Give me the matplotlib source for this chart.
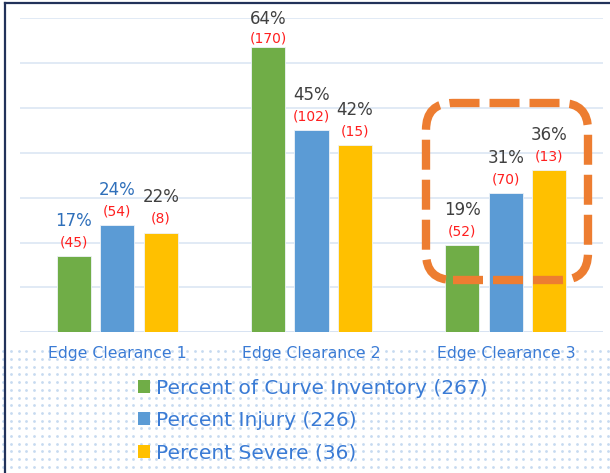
import numpy as np
import matplotlib
matplotlib.use('Agg')
import matplotlib.pyplot as plt
from matplotlib.patches import Patch, FancyBboxPatch

categories = ['Edge Clearance 1', 'Edge Clearance 2', 'Edge Clearance 3']
inventory_pct = [16.9, 63.7, 19.4]
inventory_n = [45, 170, 52]
injury_pct = [23.9, 45.1, 31.0]
injury_n = [54, 102, 70]
severe_pct = [22.2, 41.7, 36.1]
severe_n = [8, 15, 13]
legend_labels = ['Percent of Curve Inventory (267)', 'Percent Injury (226)', 'Percent Severe (36)']

plt.rcParams['font.family'] = ['DejaVu Sans']

W, H = 610, 473
fig = plt.figure(figsize=(W / 100, H / 100), dpi=100)
fig.patch.set_facecolor('white')

# background: dotted pattern + frame lines, in pixel coordinates
bg = fig.add_axes([0, 0, 1, 1], zorder=-5)
bg.set_xlim(0, W)
bg.set_ylim(H, 0)
bg.axis('off')
dx = np.arange(3.3, W, 7.65)
dy = np.arange(351.3, H, 7.7)
gx, gy = np.meshgrid(dx, dy)
bg.scatter(gx.ravel(), gy.ravel(), s=4, c='#c6daf0', linewidths=0)
bg.plot([5, 5], [3.5, H], color='#22325a', lw=1.6)
bg.plot([5, W], [3.5, 3.5], color='#22325a', lw=1.6)

ax = fig.add_axes([20 / W, (H - 332.3) / H, 583 / W, 314 / H])
ax.patch.set_visible(False)

colors = ['#70ad47', '#5b9bd5', '#ffc000']
series = [(inventory_pct, inventory_n), (injury_pct, injury_n), (severe_pct, severe_n)]
# colour of the percent label, per series and group
pct_colors = [['#2e6fba', '#404040', '#404040'],
              ['#2e6fba', '#404040', '#404040'],
              ['#404040', '#404040', '#404040']]
x = np.arange(len(categories))
off = 0.224
wid = 0.175
for i, (pct, n) in enumerate(series):
    xs = x + (i - 1) * off
    ax.bar(xs, pct, width=wid, color=colors[i], edgecolor='#eef3f8', linewidth=0.6,
           zorder=3, label=legend_labels[i])
    for j in range(len(xs)):
        if pct[j] > 60:
            o1, o2 = 5.5, 20
        else:
            o1, o2 = 10, 25.5
        ax.annotate('(%d)' % n[j], (xs[j], pct[j]), xytext=(0, o1), textcoords='offset points',
                    ha='center', va='center', fontsize=10, color='#ff1f1f', annotation_clip=False)
        ax.annotate('%.0f%%' % pct[j], (xs[j], pct[j]), xytext=(0, o2), textcoords='offset points',
                    ha='center', va='center', fontsize=12, color=pct_colors[i][j], annotation_clip=False)

ax.set_xlim(-0.5, 2.5)
ax.set_ylim(0, 70)
ax.set_yticks(np.arange(0, 71, 10))
ax.yaxis.grid(True, color='#dce6f4', lw=1.2, zorder=0)
ax.set_yticklabels([])
ax.tick_params(axis='y', length=0)
ax.axhline(0, color='#b4c7e7', lw=1, zorder=2)
for s in ax.spines.values():
    s.set_visible(False)
ax.set_xticks(x)
ax.set_xticklabels(categories, fontsize=11.3, color='#3a7bd5')
ax.tick_params(axis='x', length=0, pad=10)

# highlight box around group 3
box = FancyBboxPatch((4.26, 1.93), 1.62, 1.77, boxstyle='round,pad=0,rounding_size=0.27',
                     transform=fig.dpi_scale_trans, fill=False, edgecolor='#ed7d31',
                     lw=6, linestyle=(0, (3.6, 1.2)), zorder=10)
fig.patches.append(box)

handles = [Patch(facecolor=c, edgecolor='none') for c in colors]
leg = fig.legend(handles, legend_labels, loc='upper left', bbox_to_anchor=(138 / W, 1 - 378.5 / H),
                 frameon=False, fontsize=14.5, handlelength=0.6, handleheight=0.6,
                 handletextpad=0.3, labelspacing=0.67, borderpad=0, borderaxespad=0)
for t in leg.get_texts():
    t.set_color('#3a7bd5')

plt.savefig('out.png', dpi=100)
